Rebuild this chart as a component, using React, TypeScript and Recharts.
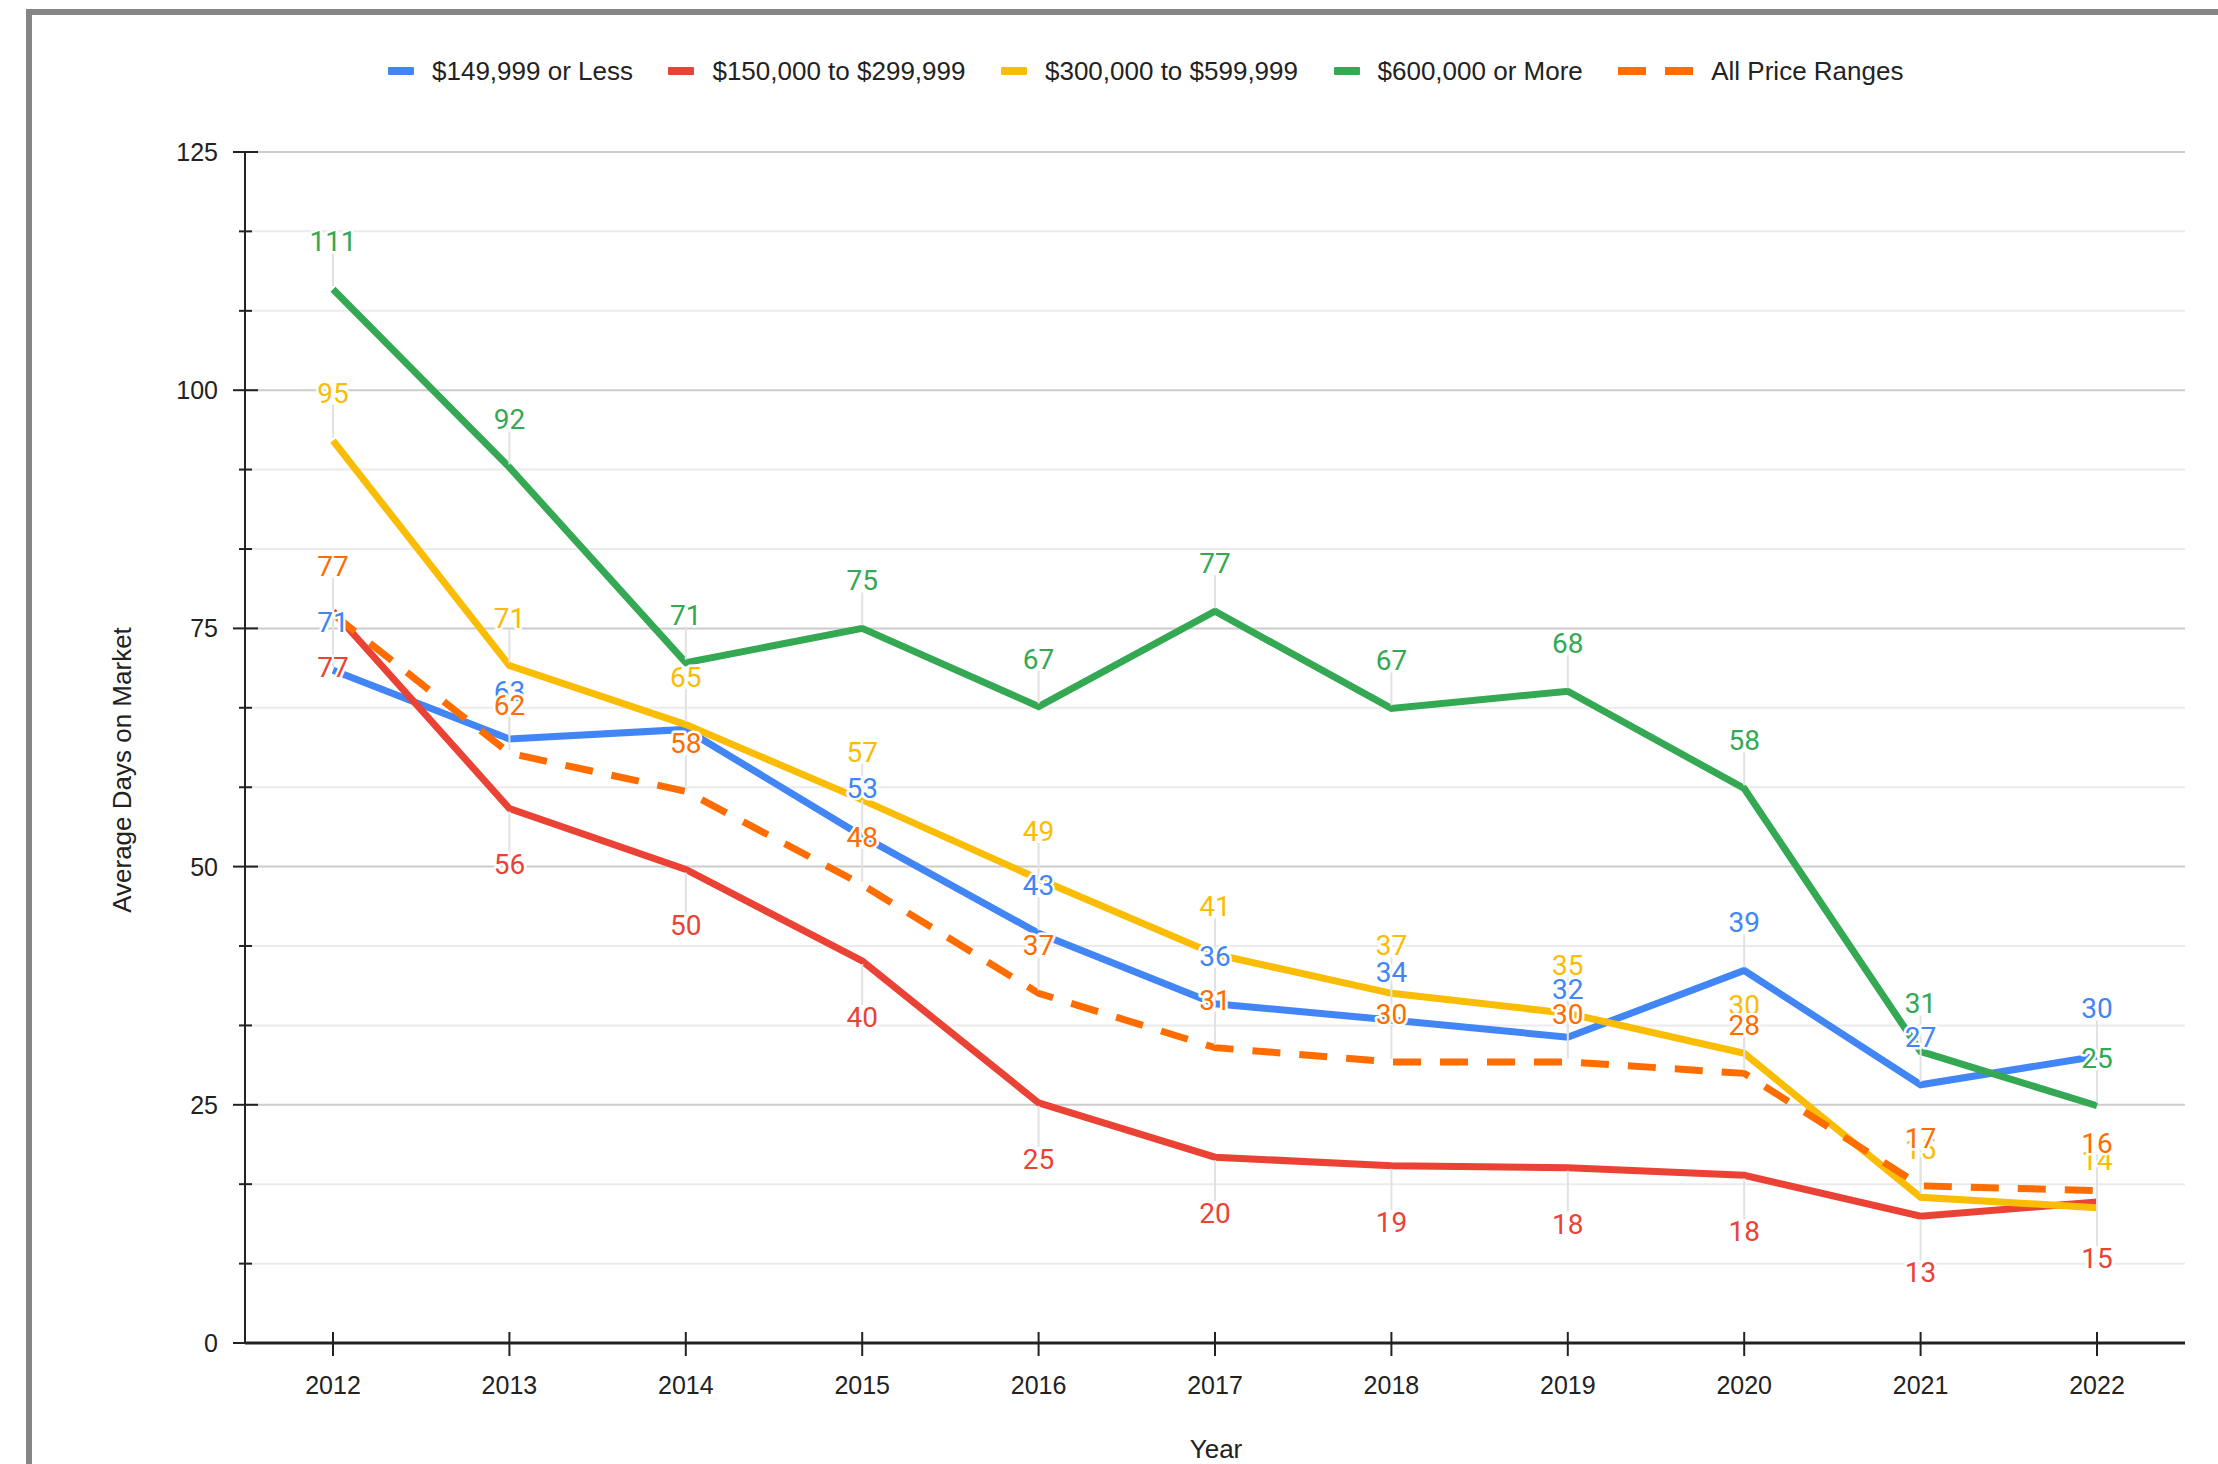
import { LineChart, Line, XAxis, YAxis, CartesianGrid } from 'recharts';

const years = ['2012', '2013', '2014', '2015', '2016', '2017', '2018', '2019', '2020', '2021', '2022'];

// average days on market per price range
const under150k = [70.6, 63.4, 64.4, 53.2, 43.0, 35.6, 33.9, 32.1, 39.1, 27.1, 30.1];
const from150to300k = [76.8, 56.1, 49.7, 40.1, 25.2, 19.5, 18.6, 18.4, 17.6, 13.3, 14.8];
const from300to600k = [94.7, 71.1, 64.9, 57.0, 48.7, 40.8, 36.7, 34.6, 30.4, 15.3, 14.2];
const over600k = [110.6, 91.9, 71.4, 75.0, 66.8, 76.8, 66.6, 68.4, 58.2, 30.6, 24.9];
const allRanges = [76.5, 61.9, 57.9, 48.1, 36.7, 31.0, 29.5, 29.5, 28.3, 16.5, 16.0];

const yTicks = [0, 8.33, 16.67, 25, 33.33, 41.67, 50, 58.33, 66.67, 75, 83.33, 91.67, 100, 108.33, 116.67, 125];
const yMajor = [0, 25, 50, 75, 100, 125];
const yMinor = [8.33, 16.67, 33.33, 41.67, 58.33, 66.67, 83.33, 91.67, 108.33, 116.67];

const TEXT = '#222';
const AXIS_FONT = 'Arial, "Liberation Sans", sans-serif';

const series = [
  { key: 'under150k', name: '$149,999 or Less', color: '#4285f4', below: false, dashed: false, hide: ['2014'] },
  { key: 'from150to300k', name: '$150,000 to $299,999', color: '#ea4335', below: true, dashed: false, hide: [] as string[] },
  { key: 'from300to600k', name: '$300,000 to $599,999', color: '#fbbc04', below: false, dashed: false, hide: [] as string[] },
  { key: 'over600k', name: '$600,000 or More', color: '#34a853', below: false, dashed: false, hide: [] as string[] },
  { key: 'allRanges', name: 'All Price Ranges', color: '#ff6d01', below: false, dashed: true, hide: [] as string[] },
];

const data = years.map((year, i) => ({
  year,
  under150k: under150k[i],
  from150to300k: from150to300k[i],
  from300to600k: from300to600k[i],
  over600k: over600k[i],
  allRanges: allRanges[i],
}));

// thin grey stem between the point and its annotation
const stemDot = (s: any) => (p: any) => {
  const { cx, cy, index, payload } = p;
  if (cx == null || cy == null || s.hide.includes(payload.year)) return <g key={`st-${s.key}-${index}`} />;
  return (
    <line key={`st-${s.key}-${index}`} x1={cx} x2={cx}
      y1={s.below ? cy + 3 : cy - 3} y2={s.below ? cy + 44 : cy - 36}
      stroke="#e2e2e2" strokeWidth={2} />
  );
};

const labelDot = (s: any) => (p: any) => {
  const { cx, cy, index, payload } = p;
  if (cx == null || cy == null || s.hide.includes(payload.year)) return <g key={`lb-${s.key}-${index}`} />;
  const mid = s.below ? cy + 56 : cy - 48;
  return (
    <text key={`lb-${s.key}-${index}`} x={cx} y={mid + 10} textAnchor="middle"
      fontFamily="Roboto, sans-serif" fontSize={28} fill={s.color}
      stroke="#fff" strokeWidth={5} strokeLinejoin="round" paintOrder="stroke">
      {Math.round(payload[s.key])}
    </text>
  );
};

const YTick = (p: any) => {
  const { x, y, payload } = p;
  const major = yMajor.includes(payload.value);
  return (
    <g>
      <line x1={major ? x - 12 : x - 6} x2={major ? x + 13 : x + 7} y1={y} y2={y} stroke={TEXT} strokeWidth={2} />
      {major && (
        <text x={x - 27} y={y + 9} textAnchor="end" fontFamily={AXIS_FONT} fontSize={25} fill={TEXT}>
          {payload.value}
        </text>
      )}
    </g>
  );
};

const XTick = (p: any) => {
  const { x, y, payload } = p;
  return (
    <g>
      <line x1={x} x2={x} y1={y - 11} y2={y + 13} stroke={TEXT} strokeWidth={2} />
      <text x={x} y={y + 51} textAnchor="middle" fontFamily={AXIS_FONT} fontSize={25} fill={TEXT}>
        {payload.value}
      </text>
    </g>
  );
};

const LegendIcon = ({ color, dashed }: { color: string; dashed: boolean }) =>
  dashed ? (
    <span style={{ display: 'flex', gap: 19 }}>
      <span style={{ width: 28, height: 8, background: color }} />
      <span style={{ width: 28, height: 8, background: color }} />
    </span>
  ) : (
    <span style={{ width: 26, height: 8, background: color, borderRadius: 1 }} />
  );

export default function App() {
  return (
    <div style={{ position: 'relative', width: 2218, height: 1464, overflow: 'hidden', background: '#fff' }}>
      <style>{'body{margin:0}'}</style>
      <div style={{
        position: 'absolute', left: 26, top: 9, right: 0, bottom: 0,
        borderLeft: '6px solid #858585', borderTop: '6px solid #858585',
      }} />

      {/* legend */}
      <div style={{
        position: 'absolute', left: 388, top: 56, height: 30, display: 'flex', alignItems: 'center',
        fontFamily: AXIS_FONT, fontSize: 26, color: TEXT, whiteSpace: 'nowrap',
      }}>
        {series.map((s, i) => (
          <span key={s.key} style={{ display: 'flex', alignItems: 'center', marginLeft: i === 0 ? 0 : 35.5 }}>
            <LegendIcon color={s.color} dashed={s.dashed} />
            <span style={{ marginLeft: 18 }}>{s.name}</span>
          </span>
        ))}
      </div>

      <LineChart width={2218} height={1464} data={data}
        margin={{ top: 152, right: 33, bottom: 61, left: 185 }}
        style={{ position: 'absolute', left: 0, top: 0 }}>
        <CartesianGrid vertical={false} horizontalValues={yMinor} stroke="#ebebeb" strokeWidth={2} />
        <CartesianGrid vertical={false} horizontalValues={yMajor} stroke="#cccccc" strokeWidth={2} />
        <XAxis dataKey="year" interval={0} height={60} padding={{ left: 88, right: 88 }}
          axisLine={{ stroke: TEXT, strokeWidth: 3 }} tickLine={false} tickSize={0} tickMargin={0}
          tick={<XTick />} />
        <YAxis type="number" domain={[0, 125]} ticks={yTicks} interval={0} width={60}
          axisLine={{ stroke: TEXT, strokeWidth: 2 }} tickLine={false} tickSize={0} tickMargin={0}
          tick={<YTick />} />

        {series.map(s => (
          <Line key={`stem-${s.key}`} dataKey={s.key} stroke="none" dot={stemDot(s)} activeDot={false}
            legendType="none" isAnimationActive={false} />
        ))}

        {series.map(s => (
          <Line key={s.key} dataKey={s.key} name={s.name} stroke={s.color} strokeWidth={7}
            strokeDasharray={s.dashed ? '28 19' : undefined} dot={false} activeDot={false}
            isAnimationActive={false} />
        ))}

        {series.map(s => (
          <Line key={`label-${s.key}`} dataKey={s.key} stroke="none" dot={labelDot(s)} activeDot={false}
            legendType="none" isAnimationActive={false} />
        ))}
      </LineChart>

      <div style={{
        position: 'absolute', left: 122, top: 770, transform: 'translate(-50%, -50%) rotate(-90deg)',
        fontFamily: AXIS_FONT, fontSize: 26, color: TEXT, whiteSpace: 'nowrap',
      }}>
        Average Days on Market
      </div>
      <div style={{
        position: 'absolute', left: 1216, top: 1449, transform: 'translate(-50%, -50%)',
        fontFamily: AXIS_FONT, fontSize: 26, lineHeight: '28px', color: TEXT, whiteSpace: 'nowrap',
      }}>
        Year
      </div>
    </div>
  );
}
